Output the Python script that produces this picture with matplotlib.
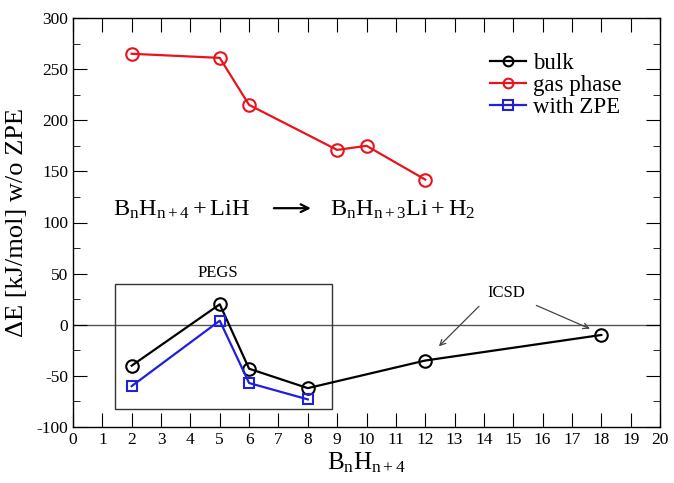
import matplotlib
matplotlib.use("Agg")
import matplotlib.pyplot as plt
from matplotlib.patches import Rectangle
from matplotlib.ticker import MultipleLocator

plt.rcParams['font.family'] = ['Liberation Serif', 'DejaVu Serif']
plt.rcParams['mathtext.fontset'] = 'custom'
plt.rcParams['mathtext.rm'] = 'Liberation Serif'
plt.rcParams['mathtext.it'] = 'Liberation Serif'
plt.rcParams['axes.unicode_minus'] = False

bulk_n = [2, 5, 6, 8, 12, 18]
bulk_e = [-40, 20, -43, -62, -35, -10]
gas_n = [2, 5, 6, 9, 10, 12]
gas_e = [265, 261, 215, 171, 175, 142]
zpe_n = [2, 5, 6, 8]
zpe_e = [-60, 4, -57, -73]

fig = plt.figure(figsize=(6.74, 4.83), dpi=100)
ax = fig.add_axes([73/674, 1-427/483, 587/674, 409/483])

ax.axhline(0, color='#555555', lw=1.0, zorder=1)
ax.plot(bulk_n, bulk_e, color='black', marker='o', mfc='none', mec='black',
        ms=9, mew=1.5, lw=1.6, label='bulk', zorder=3)
ax.plot(gas_n, gas_e, color='#e8141c', marker='o', mfc='none', mec='#e8141c',
        ms=9, mew=1.5, lw=1.6, label='gas phase', zorder=3)
ax.plot(zpe_n, zpe_e, color='#1f1fdc', marker='s', mfc='none', mec='#1f1fdc',
        ms=7.5, mew=1.5, lw=1.6, label='with ZPE', zorder=3)

ax.add_patch(Rectangle((1.43, -82), 8.82-1.43, 122, fill=False,
                       ec='#333333', lw=1.0, zorder=2))
ax.text(4.95, 43, 'PEGS', ha='center', va='bottom', fontsize=12)

ax.text(14.75, 31, 'ICSD', ha='center', va='center', fontsize=12)
ax.annotate('', xy=(12.4, -23), xytext=(13.9, 20),
            arrowprops=dict(arrowstyle='->', color='#444444', lw=0.9))
ax.annotate('', xy=(17.7, -5), xytext=(15.7, 20),
            arrowprops=dict(arrowstyle='->', color='#444444', lw=0.9))

ax.text(1.36, 112, r'$\mathrm{B_nH_{n+4} + LiH}$', fontsize=17.5, va='center')
ax.annotate('', xy=(8.2, 114), xytext=(6.75, 114),
            arrowprops=dict(arrowstyle='->', color='black', lw=1.6,
                            mutation_scale=14))
ax.text(8.76, 112, r'$\mathrm{B_nH_{n+3}Li + H_2}$', fontsize=17.5, va='center')

ax.set_xlim(0, 20)
ax.set_ylim(-100, 300)
ax.xaxis.set_major_locator(MultipleLocator(1))
ax.yaxis.set_major_locator(MultipleLocator(50))
ax.yaxis.set_minor_locator(MultipleLocator(25))
ax.tick_params(which='both', direction='in', top=True, right=True, labelsize=12.5)
ax.tick_params(which='major', length=10)
ax.tick_params(which='minor', length=5)
for s in ax.spines.values():
    s.set_linewidth(1.0)

ax.set_xlabel(r'$\mathrm{B_nH_{n+4}}$', fontsize=18, labelpad=2)
ax.set_ylabel('ΔE [kJ/mol] w/o ZPE', fontsize=19, labelpad=6)

leg = ax.legend(loc='upper left', bbox_to_anchor=(0.71, 0.915), frameon=False,
                fontsize=16.5, handlelength=1.6, handletextpad=0.3,
                labelspacing=0.05, borderpad=0, borderaxespad=0)
for h in leg.legend_handles:
    h.set_markersize(7)

fig.savefig('out.png', dpi=100)
